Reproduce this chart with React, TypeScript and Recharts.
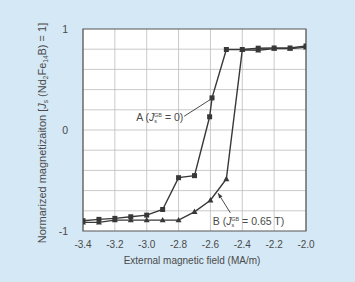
import React from 'react';
import { LineChart, Line, XAxis, YAxis, CartesianGrid, ReferenceLine, ReferenceDot, ReferenceArea } from 'recharts';

const seriesA_x = [-3.4, -3.3, -3.2, -3.1, -3.0, -2.9, -2.8, -2.7, -2.605, -2.59, -2.5, -2.4, -2.3, -2.2, -2.1, -2.0];
const seriesA_y = [-0.898, -0.885, -0.875, -0.859, -0.843, -0.787, -0.472, -0.452, 0.131, 0.318, 0.797, 0.797, 0.81, 0.812, 0.812, 0.832];
const seriesB_x = [-3.4, -3.3, -3.2, -3.1, -3.0, -2.9, -2.8, -2.7, -2.6, -2.5, -2.4, -2.3, -2.2, -2.1, -2.0];
const seriesB_y = [-0.915, -0.915, -0.892, -0.892, -0.892, -0.892, -0.892, -0.81, -0.695, -0.485, 0.793, 0.79, 0.806, 0.806, 0.818];
const xTicks = [-3.4, -3.2, -3.0, -2.8, -2.6, -2.4, -2.2, -2.0];
const yTicks = [-1, 0, 1];
const yTickLabels = ['-1', '0', '1'];
const hGrid = [-0.8, -0.6, -0.4, -0.2, 0, 0.2, 0.4, 0.6, 0.8];

const dataA = seriesA_x.map((x, i) => ({ x, y: seriesA_y[i] }));
const dataB = seriesB_x.map((x, i) => ({ x, y: seriesB_y[i] }));

const FONT = '"Liberation Sans", Arial, sans-serif';
const TXT = '#4a4a4a';
const LINE = '#383838';

const Square = (props: any) => {
  const { cx, cy } = props;
  if (cx == null || cy == null) return null;
  return <rect x={cx - 2.5} y={cy - 2.5} width={5} height={5} fill={LINE} />;
};
const Tri = (props: any) => {
  const { cx, cy } = props;
  if (cx == null || cy == null) return null;
  return <polygon points={`${cx},${cy - 3.2} ${cx - 3},${cy + 2.2} ${cx + 3},${cy + 2.2}`} fill={LINE} />;
};

const ArrowShape = (props: any) => {
  const { x1, y1, x2, y2 } = props;
  if ([x1, y1, x2, y2].some((v) => v == null || isNaN(v))) return null;
  const ang = Math.atan2(y2 - y1, x2 - x1);
  const L = 5, W = 2;
  const bx = x2 - L * Math.cos(ang), by = y2 - L * Math.sin(ang);
  const px = -Math.sin(ang) * W, py = Math.cos(ang) * W;
  return (
    <g>
      <line x1={x1} y1={y1} x2={x2} y2={y2} stroke={LINE} strokeWidth={0.9} />
      <polygon points={`${x2},${y2} ${bx + px},${by + py} ${bx - px},${by - py}`} fill={LINE} />
    </g>
  );
};

const PlainShape = (props: any) => {
  const { x1, y1, x2, y2 } = props;
  if ([x1, y1, x2, y2].some((v) => v == null || isNaN(v))) return null;
  return <line x1={x1} y1={y1} x2={x2} y2={y2} stroke={LINE} strokeWidth={0.9} />;
};

const annoText = (prefix: string, val: string, anchor: 'start' | 'end') => (p: any) => {
  const vb = p.viewBox || {};
  const x = vb.x + (vb.width || 0) / 2;
  const y = vb.y + (vb.height || 0) / 2;
  return (
    <text x={x} y={y} textAnchor={anchor} fontFamily={FONT} fontSize={10.5} fill={TXT}>
      {prefix} (<tspan fontStyle="italic">J</tspan>
      <tspan fontSize={5.5} dy={2}>s</tspan>
      <tspan fontSize={5.5} dy={-6} dx={-3}>GB</tspan>
      <tspan dy={4}> = {val})</tspan>
    </text>
  );
};

const YLabel = () => (
  <text transform="translate(46,133) rotate(-90)" textAnchor="middle" fontFamily={FONT} fontSize={11} fill={TXT}>
    Normarized magnetizaiton [<tspan fontStyle="italic">J</tspan>
    <tspan fontSize={6.5} dy={2}>s</tspan>
    <tspan dy={-2}> (Nd</tspan>
    <tspan fontSize={6.5} dy={2}>2</tspan>
    <tspan dy={-2}>Fe</tspan>
    <tspan fontSize={6.5} dy={2}>14</tspan>
    <tspan dy={-2}>B) = 1]</tspan>
  </text>
);

export default function App() {
  return (
    <div style={{ position: 'absolute', left: 0, top: 0, width: 355, height: 282, background: '#d5e8f5' }}>
      <LineChart width={355} height={282} margin={{ top: 29, right: 49, bottom: 21, left: 23 }}>
        <CartesianGrid stroke="#bdbdbd" strokeWidth={0.8} fill="#ffffff" horizontalValues={hGrid} verticalValues={xTicks} />
        <XAxis
          type="number"
          dataKey="x"
          domain={[-3.4, -2.0]}
          ticks={xTicks}
          tickFormatter={(v: number) => v.toFixed(1)}
          tick={{ fontFamily: FONT, fontSize: 10, fill: TXT }}
          tickLine={false}
          axisLine={false}
          height={30}
          tickMargin={4}
          allowDataOverflow
        />
        <YAxis
          type="number"
          dataKey="y"
          domain={[-1, 1]}
          ticks={yTicks}
          tickFormatter={(v: number) => yTickLabels[yTicks.indexOf(v)]}
          tick={{ fontFamily: FONT, fontSize: 10.5, fill: TXT }}
          tickLine={false}
          axisLine={false}
          width={60}
          tickMargin={9}
          allowDataOverflow
        />
        <ReferenceArea x1={-3.4} x2={-2.0} y1={-1} y2={1} fill="none" stroke="#555" strokeWidth={1.2} />
        <Line data={dataB} dataKey="y" stroke={LINE} strokeWidth={1.4} dot={<Tri />} isAnimationActive={false} />
        <Line data={dataA} dataKey="y" stroke={LINE} strokeWidth={1.4} dot={<Square />} isAnimationActive={false} />
        <ReferenceLine segment={[{ x: -2.765, y: 0.136 }, { x: -2.592, y: 0.31 }]} shape={<PlainShape />} ifOverflow="visible" />
        <ReferenceLine segment={[{ x: -2.475, y: -0.82 }, { x: -2.552, y: -0.625 }]} shape={<ArrowShape />} ifOverflow="visible" />
        <ReferenceDot x={-2.77} y={0.085} r={0} fill="none" stroke="none" label={annoText('A', '0', 'end')} />
        <ReferenceDot x={-2.585} y={-0.94} r={0} fill="none" stroke="none" label={annoText('B', '0.65 T', 'start')} />
      </LineChart>
      <svg width={355} height={282} style={{ position: 'absolute', left: 0, top: 0, pointerEvents: 'none' }}>
        <YLabel />
        <text x={192} y={264} textAnchor="middle" fontFamily={FONT} fontSize={10} fill={TXT}>External magnetic field (MA/m)</text>
      </svg>
    </div>
  );
}
